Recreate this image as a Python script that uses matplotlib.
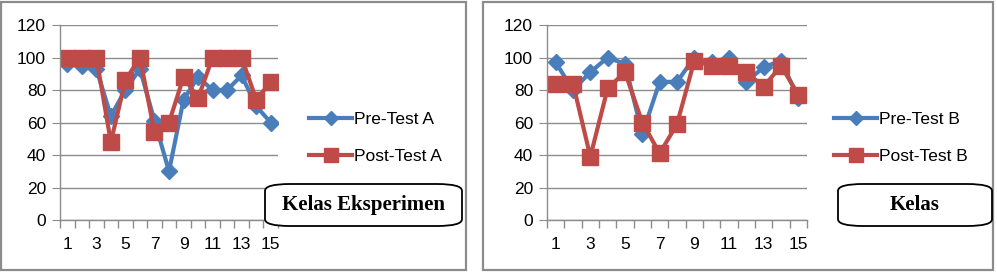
import matplotlib.pyplot as plt
from matplotlib.patches import Rectangle, FancyBboxPatch

# data
siswa = list(range(1, 16))
pre_a = [96, 95, 93, 64, 80, 93, 61, 30, 74, 88, 80, 80, 89, 70, 60]
post_a = [100, 100, 100, 48, 86, 100, 54, 60, 88, 75, 100, 100, 100, 74, 85]
pre_b = [97, 80, 91, 100, 96, 53, 85, 85, 100, 97, 100, 85, 94, 98, 75]
post_b = [84, 84, 39, 81, 91, 60, 41, 59, 98, 95, 95, 91, 82, 95, 77]
y_ticks = [0, 20, 40, 60, 80, 100, 120]

BLUE = '#4a7ebb'
RED = '#be4b48'
W, H = 997, 274

plt.rcParams['font.family'] = ['Liberation Sans', 'DejaVu Sans']
fig = plt.figure(figsize=(W / 100, H / 100), dpi=100)


def px(x0, y0, x1, y1):
    # pixel box (top-left origin) -> figure fraction
    return [x0 / W, 1 - y1 / H, (x1 - x0) / W, (y1 - y0) / H]


def panel(frame, axbox, pre, post, lab_pre, lab_post, leg_x, box, title):
    # outer frame of the chart
    fx0, fy0, fx1, fy1 = frame
    fig.patches.append(Rectangle((fx0 / W, 1 - fy1 / H), (fx1 - fx0) / W, (fy1 - fy0) / H,
                                 transform=fig.transFigure, fill=False,
                                 edgecolor='#8c8c8c', linewidth=1.6))
    ax = fig.add_axes(px(*axbox))
    xs = [i - 0.5 for i in siswa]
    ax.plot(xs, pre, color=BLUE, lw=3, marker='D', ms=8, mec=BLUE, label=lab_pre)
    ax.plot(xs, post, color=RED, lw=3, marker='s', ms=11, mec=RED, label=lab_post)
    ax.set_xlim(0, 15)
    ax.set_ylim(0, 120)
    ax.set_yticks(y_ticks)
    ax.grid(axis='y', color='#8c8c8c', lw=1)
    ax.set_axisbelow(True)
    ax.set_xticks(range(0, 16))
    ax.set_xticks(xs, minor=True)
    ax.set_xticklabels([])
    ax.set_xticklabels([str(s) if s % 2 == 1 else '' for s in siswa], minor=True)
    ax.tick_params(axis='x', which='major', length=6, color='#8c8c8c', width=1)
    ax.tick_params(axis='x', which='minor', length=0, labelsize=12.5, pad=12)
    ax.tick_params(axis='y', length=6, color='#8c8c8c', labelsize=12.5, pad=4)
    for s in ['top', 'right']:
        ax.spines[s].set_visible(False)
    for s in ['left', 'bottom']:
        ax.spines[s].set_color('#8c8c8c')
        ax.spines[s].set_linewidth(1)

    # legend
    h, l = ax.get_legend_handles_labels()
    fig.legend(h, l, loc='upper left', bbox_to_anchor=(leg_x / W, 1 - 105 / H),
               frameon=False, fontsize=12.5, handlelength=2.5, handletextpad=0.1,
               labelspacing=1.25, borderaxespad=0, markerscale=0.9)

    # label box
    bx0, by0, bx1, by1 = box
    fig.patches.append(FancyBboxPatch((bx0 / W, 1 - by1 / H), (bx1 - bx0) / W, (by1 - by0) / H,
                                      boxstyle='round,pad=0,rounding_size=0.025',
                                      transform=fig.transFigure, facecolor='white',
                                      edgecolor='black', linewidth=1.3, zorder=5))
    fig.text((bx0 + bx1) / 2 / W, 1 - (by0 + by1) / 2 / H, title, ha='center', va='center',
             family=['Liberation Serif'], weight='bold', fontsize=15, zorder=6)


panel((1, 2, 466, 270), (60, 25, 278, 220), pre_a, post_a, 'Pre-Test A', 'Post-Test A',
      302, (265, 184, 462, 226), 'Kelas Eksperimen')
panel((483, 2, 993, 270), (547, 25, 807, 220), pre_b, post_b, 'Pre-Test B', 'Post-Test B',
      827, (838, 184, 992, 226), 'Kelas')

fig.savefig('out.png', dpi=100)
